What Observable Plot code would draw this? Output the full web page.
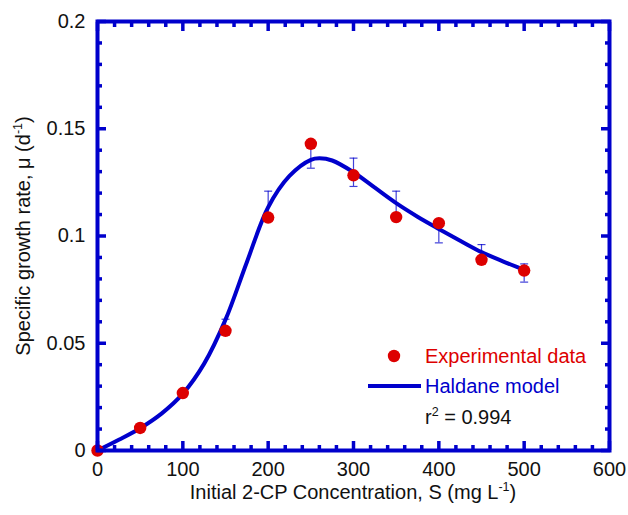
<!DOCTYPE html>
<html><head><meta charset="utf-8">
<script src="https://cdn.jsdelivr.net/npm/d3@7"></script>
<script src="https://cdn.jsdelivr.net/npm/@observablehq/plot@0.6"></script>
<style>body{margin:0;background:#fff}</style>
</head><body><div id="chart"></div>
<script>
// Experimental data
const concentration = [0, 50, 100, 150, 200, 250, 300, 350, 400, 450, 500];
const growthRate = [0, 0.0105, 0.0268, 0.0558, 0.1086, 0.143, 0.1283, 0.1088, 0.106, 0.0889, 0.0839];
const errorLow = [null, null, null, 0.0558, 0.1086, 0.1316, 0.1231, 0.1088, 0.0968, 0.0889, 0.0785];
const errorHigh = [null, null, null, 0.0612, 0.1209, 0.143, 0.1363, 0.1209, 0.106, 0.096, 0.087];
// Haldane model curve
const modelS = [0, 25, 50, 75, 100, 125, 150, 175, 200, 225, 250, 260, 275, 300, 325, 350, 375, 400, 425, 450, 475, 500];
const modelMu = [0, 0.005, 0.0104, 0.0172, 0.0265, 0.0405, 0.061, 0.0878, 0.1134, 0.128, 0.1355, 0.1362, 0.1352, 0.1297, 0.1225, 0.1153, 0.109, 0.1033, 0.0978, 0.0925, 0.0882, 0.0842];
// Ticks
const xTicks = [0, 100, 200, 300, 400, 500, 600];
const xMinorTicks = [20,40,60,80,120,140,160,180,220,240,260,280,320,340,360,380,420,440,460,480,520,540,560,580];
const yTicks = [0, 0.05, 0.1, 0.15, 0.2];
const yMinorTicks = [0.01,0.02,0.03,0.04,0.06,0.07,0.08,0.09,0.11,0.12,0.13,0.14,0.16,0.17,0.18,0.19];

const blue = "#0000cc", red = "#dd0000";
const points = concentration.map((s, i) => ({s, mu: growthRate[i], lo: errorLow[i], hi: errorHigh[i]}));
const errs = points.filter(d => d.lo != null);
const model = modelS.map((s, i) => ({s, mu: modelMu[i]}));
const cap = {draw(ctx) { ctx.moveTo(-4, 0); ctx.lineTo(4, 0); }};

const tickOpts = {stroke: blue, strokeWidth: 3.5, fill: "none", label: null};
const svg = Plot.plot({
  width: 628, height: 515,
  marginLeft: 97, marginRight: 19, marginTop: 21, marginBottom: 65,
  style: {fontFamily: "'Liberation Sans', Arial, sans-serif", fontSize: "20px", color: "#111", background: "white"},
  x: {domain: [0, 600]},
  y: {domain: [0, 0.2]},
  marks: [
    Plot.ruleX(errs, {x: "s", y1: "lo", y2: "hi", stroke: blue, strokeWidth: 1.2, strokeOpacity: 0.75}),
    Plot.dot(errs, {x: "s", y: "lo", symbol: cap, stroke: blue, strokeWidth: 1.2, strokeOpacity: 0.75, fill: "none"}),
    Plot.dot(errs, {x: "s", y: "hi", symbol: cap, stroke: blue, strokeWidth: 1.2, strokeOpacity: 0.75, fill: "none"}),
    Plot.line(model, {x: "s", y: "mu", stroke: blue, strokeWidth: 4, curve: "catmull-rom"}),
    Plot.dot(points, {x: "s", y: "mu", r: 6.2, fill: red}),
    Plot.axisX(xMinorTicks, {anchor: "bottom", tickSize: -5, ...tickOpts}),
    Plot.axisX(xMinorTicks, {anchor: "top", tickSize: -5, ...tickOpts}),
    Plot.axisX(xTicks, {anchor: "bottom", tickSize: -9, ...tickOpts}),
    Plot.axisX(xTicks, {anchor: "top", tickSize: -9, ...tickOpts}),
    Plot.axisY(yMinorTicks, {anchor: "left", tickSize: -5, ...tickOpts}),
    Plot.axisY(yMinorTicks, {anchor: "right", tickSize: -5, ...tickOpts}),
    Plot.axisY(yTicks, {anchor: "left", tickSize: -9, ...tickOpts}),
    Plot.axisY(yTicks, {anchor: "right", tickSize: -9, ...tickOpts}),
    Plot.axisX(xTicks, {anchor: "bottom", tickSize: 0, tickPadding: 11, label: null, tickFormat: d => String(d), fill: "#111"}),
    Plot.axisY(yTicks, {anchor: "left", tickSize: 0, tickPadding: 12, label: null, tickFormat: d => String(d), fill: "#111"}),
    Plot.frame({stroke: blue, strokeWidth: 4})
  ]
});
document.getElementById("chart").append(svg);

const g = d3.select(svg).append("g").attr("font-family", "'Liberation Sans', Arial, sans-serif").attr("font-size", 20).attr("text-anchor", "start");
function supText(sel, parts) {
  parts.forEach(p => {
    const t = sel.append("tspan").text(p.t);
    if (p.sup) t.attr("font-size", 12.5).attr("dy", -8);
    else if (p.after) t.attr("dy", 8);
  });
}
// x title
const xt = g.append("text").attr("x", 353).attr("y", 499).attr("text-anchor", "middle").attr("fill", "#111");
supText(xt, [{t: "Initial 2-CP Concentration, S (mg L"}, {t: "-1", sup: true}, {t: ")", after: true}]);
// y title
const yt = g.append("text").attr("transform", "translate(30,236) rotate(-90)").attr("text-anchor", "middle").attr("fill", "#111");
supText(yt, [{t: "Specific growth rate, μ (d"}, {t: "-1", sup: true}, {t: ")", after: true}]);
// legend
g.append("circle").attr("cx", 394).attr("cy", 356).attr("r", 6.2).attr("fill", red);
g.append("text").attr("x", 425).attr("y", 363).attr("fill", red).attr("text-anchor", "start").text("Experimental data");
g.append("line").attr("x1", 368).attr("x2", 421).attr("y1", 386).attr("y2", 386).attr("stroke", blue).attr("stroke-width", 4);
g.append("text").attr("x", 425).attr("y", 393).attr("fill", blue).attr("text-anchor", "start").text("Haldane model");
const rt = g.append("text").attr("x", 425).attr("y", 424).attr("fill", "#111").attr("text-anchor", "start");
supText(rt, [{t: "r"}, {t: "2", sup: true}, {t: " = 0.994", after: true}]);
</script>
</body></html>
